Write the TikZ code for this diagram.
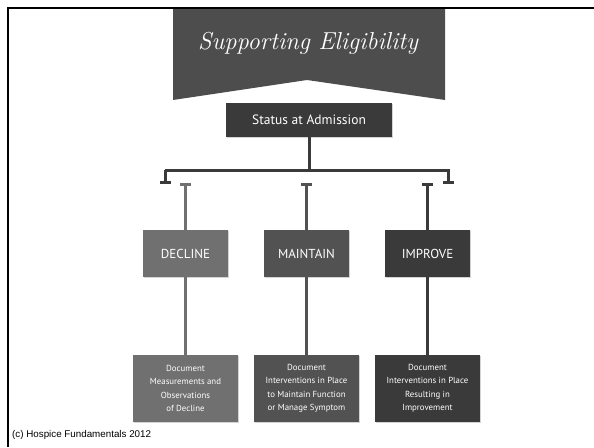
\documentclass[tikz,border=0pt]{standalone}
\usepackage{fontspec}
\newfontfamily\boxfont{PT Sans}
\newfontfamily\footfont{Liberation Sans}
\usepackage{tikz}
\usetikzlibrary{arrows.meta,shadows}
\definecolor{banner}{HTML}{4D4D4D}
\definecolor{darkbox}{HTML}{3A3A3A}
\definecolor{midbox}{HTML}{525252}
\definecolor{lightbox}{HTML}{707070}

\begin{document}
\begin{tikzpicture}[x=1pt,y=-1pt,
  box/.style={rectangle,draw=none,text=white,font=\boxfont,align=center,
    drop shadow={opacity=0.35,shadow xshift=1pt,shadow yshift=-1pt}},
  statebox/.style={box,minimum width=85pt,minimum height=47pt,font=\boxfont\fontsize{13}{15}\selectfont},
  docbox/.style={box,minimum width=105pt,minimum height=67pt,font=\boxfont\fontsize{8.8}{13.5}\selectfont},
  link/.style={line width=3pt}]
  \useasboundingbox (0,0) rectangle (594,447);

  % frame
  \draw[line width=2.5pt] (594,8) -- (8,8) -- (8,447);

  % banner
  \fill[banner] (173,9) -- (445,9) -- (445,100) -- (307,80) -- (173,100) -- cycle;
  \node[text=white,font=\itshape\fontsize{24.5}{28}\selectfont] (title) at (308,43) {Supporting Eligibility};

  % status box
  \node[box,fill=darkbox,minimum width=166pt,minimum height=34pt,font=\boxfont\fontsize{13.5}{15}\selectfont] (stat) at (309,120) {Status at Admission};

  % states
  \node[statebox,fill=lightbox] (decl) at (185.5,253.5) {DECLINE};
  \node[statebox,fill=midbox] (main) at (306.5,253.5) {MAINTAIN};
  \node[statebox,fill=darkbox] (impr) at (427.5,253.5) {IMPROVE};

  % documentation
  \node[docbox,fill=lightbox] (docD) at (185.5,388.5) {Document\\Measurements and\\Observations\\of Decline};
  \node[docbox,fill=midbox] (docM) at (306.5,388.5) {Document\\Interventions in Place\\to Maintain Function\\or Manage Symptom};
  \node[docbox,fill=darkbox] (docI) at (427.5,388.5) {Document\\Interventions in Place\\Resulting in\\Improvement};

  % bus
  \coordinate (busM) at (309,170);
  \coordinate (busL) at (165,170);
  \coordinate (busR) at (448,170);
  \coordinate (endL) at (165,184);
  \coordinate (endR) at (448,184);
  \draw[link,darkbox] (stat.south) -- (busM);
  \draw[link,darkbox,-{Bar[width=11pt,line width=3pt]}] (busL) -- (busR) -- (endR);
  \draw[link,darkbox,-{Bar[width=11pt,line width=3pt]}] (busL) -- (endL);

  % branches
  \coordinate (capD) at (185.5,183);
  \coordinate (capM) at (306.5,183);
  \coordinate (capI) at (427.5,183);
  \draw[link,lightbox,{Bar[width=11pt,line width=3pt]}-] (capD) -- (decl.north);
  \draw[link,lightbox] (decl.south) -- (docD.north);
  \draw[link,midbox,{Bar[width=11pt,line width=3pt]}-] (capM) -- (main.north);
  \draw[link,midbox] (main.south) -- (docM.north);
  \draw[link,darkbox,{Bar[width=11pt,line width=3pt]}-] (capI) -- (impr.north);
  \draw[link,darkbox] (impr.south) -- (docI.north);

  % footer
  \node[anchor=west,font=\footfont\fontsize{9.8}{11}\selectfont,inner sep=0pt] (copy) at (12,435) {(c) Hospice Fundamentals 2012};
\end{tikzpicture}
\end{document}
